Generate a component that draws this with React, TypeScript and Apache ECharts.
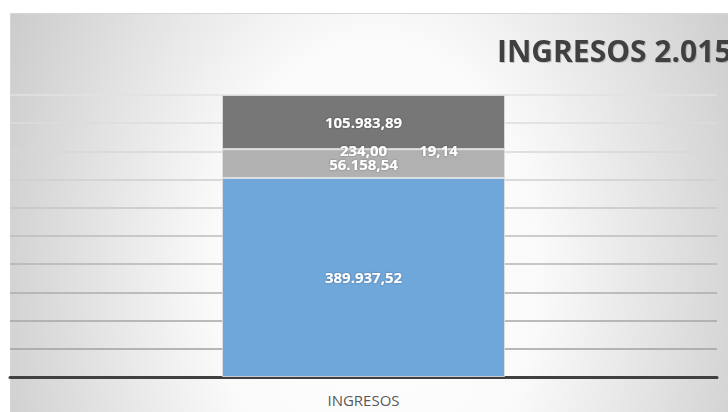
import React, { useEffect, useRef } from "react";
import * as echarts from "echarts";

const categories = ["INGRESOS"];
const seriesNames = ["Serie 1", "Serie 2", "Serie 3", "Serie 4", "Serie 5"];
const seriesValues = [389937.52, 56158.54, 234.0, 19.14, 105983.89];
const titleText = "INGRESOS 2.015";

const seriesColors = ["#70a7da", "#b1b1b1", "#ed7d31", "#ffc000", "#777777"];
const labelOffsets = [[0, 0], [0, 0], [0, 1], [75, 1], [0, 0]];
const gridColors = ["#a0a0a0", "#a0a0a0", "#a6a6a6", "#adadad", "#b4b4b4", "#bdbdbd", "#c6c6c6", "#cfcfcf", "#d7d7d7", "#dddddd", "#e2e2e2"];

function fmt(v: number): string {
  const [i, d] = v.toFixed(2).split(".");
  return i.replace(/\B(?=(\d{3})+(?!\d))/g, ".") + "," + d;
}

export default function App() {
  const ref = useRef<HTMLDivElement>(null);
  useEffect(() => {
    if (!ref.current) return;
    const chart = echarts.init(ref.current, null, { renderer: "svg" });
    const total = seriesValues.reduce((a, b) => a + b, 0);
    const labelFont = "'Open Sans', 'Noto Sans', sans-serif";
    chart.setOption({
      animation: false,
      backgroundColor: "transparent",
      grid: { left: 10, right: 11, top: 95, bottom: 35, containLabel: false },
      xAxis: {
        type: "category",
        data: categories,
        axisLine: { show: true, lineStyle: { color: "#404040", width: 3 } },
        axisTick: { show: false },
        axisLabel: { color: "#595959", fontSize: 15, fontFamily: labelFont, margin: 15 },
        splitLine: { show: false },
      },
      yAxis: {
        type: "value",
        min: 0,
        max: 100,
        interval: 10,
        axisLine: { show: false },
        axisTick: { show: false },
        axisLabel: { show: false },
        splitLine: { show: true, lineStyle: { color: gridColors, width: 1.5 } },
      },
      graphic: [
        {
          type: "text",
          x: 497,
          y: 50,
          z: 10,
          style: {
            text: titleText,
            fill: "#404040",
            font: "bold 30px 'Open Sans', sans-serif",
            verticalAlign: "middle",
            align: "left",
            textShadowColor: "rgba(0,0,0,0.18)",
            textShadowBlur: 1,
            textShadowOffsetX: 1,
            textShadowOffsetY: 1,
          },
        },
      ],
      series: seriesValues.map((v, idx) => ({
        name: seriesNames[idx],
        type: "bar",
        stack: "total",
        barWidth: 283,
        data: [(v / total) * 100],
        itemStyle: { color: seriesColors[idx], borderColor: "rgba(225,225,225,0.8)", borderWidth: 1 },
        label: {
          show: true,
          position: "inside",
          offset: labelOffsets[idx],
          formatter: () => fmt(v),
          color: "#ffffff",
          fontSize: 15,
          fontWeight: "bold",
          fontFamily: labelFont,
          textShadowColor: "rgba(0,0,0,0.35)",
          textShadowBlur: 2,
        },
      })),
    });
    return () => chart.dispose();
  }, []);
  return (
    <div style={{ position: "fixed", left: 0, top: 0, width: 728, height: 412, background: "#ffffff", overflow: "hidden" }}>
      <div
        style={{
          position: "absolute",
          left: 10,
          top: 13,
          width: 718,
          height: 399,
          borderTop: "1px solid #d6d6d6",
          borderLeft: "1px solid #d6d6d6",
          boxSizing: "border-box",
          background: "radial-gradient(ellipse 410px 600px at 365px 260px, #ffffff 0%, #fafafa 40%, #cbcbcb 100%)",
        }}
      />
      <div ref={ref} style={{ position: "absolute", left: 0, top: 0, width: 728, height: 412 }} />
    </div>
  );
}
